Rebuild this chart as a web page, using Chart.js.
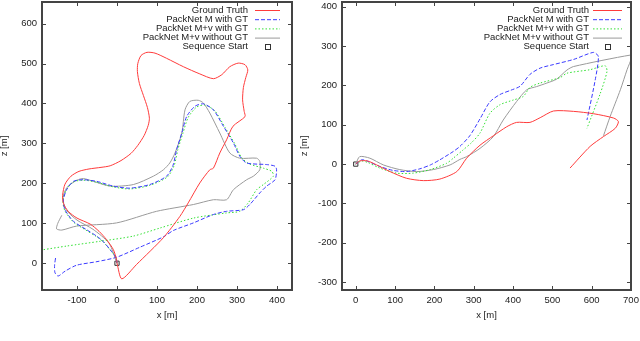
<!DOCTYPE html>
<html>
<head>
<meta charset="utf-8">
<script src="https://cdn.jsdelivr.net/npm/chart.js@4.4.0/dist/chart.umd.min.js"></script>
<style>
body { margin: 0; background: #fff; width: 640px; height: 341px; overflow: hidden; position: relative; }
#left { position: absolute; left: 0; top: 0; }
#right { position: absolute; left: 298px; top: 0; }
</style>
</head>
<body>
<canvas id="left" width="300" height="341"></canvas>
<canvas id="right" width="342" height="341"></canvas>
<script>
// series labels
var seriesNames = ['Ground Truth', 'PackNet M with GT', 'PackNet M+v with GT', 'PackNet M+v without GT', 'Sequence Start'];

// tick labels
var leftXTicks = [-100, 0, 100, 200, 300, 400];
var leftYTicks = [0, 100, 200, 300, 400, 500, 600];
var rightXTicks = [0, 100, 200, 300, 400, 500, 600, 700];
var rightYTicks = [-300, -200, -100, 0, 100, 200, 300, 400];

// ---- left plot (x / z in metres) ----
var gtLX = [0, -1, -9, -26, -45, -67, -100, -122, -134, -136, -130, -115, -95, -70, -40, -17, 10, 35, 52, 68, 78, 81, 76, 66, 56, 51, 52, 60, 75, 95, 124, 166, 207, 241, 262, 282, 303, 320, 327, 322, 316, 314, 318, 320, 290, 274, 257, 241, 232, 207, 178, 157, 116, 49, 12, 0];
var gtLY = [0, 9, 34, 59, 80, 98, 113, 130, 150, 170, 198, 218, 230, 236, 240, 244, 257, 275, 295, 320, 345, 363, 390, 420, 450, 480, 500, 520, 528, 526, 513, 492, 474, 462, 472, 492, 501, 497, 484, 465, 440, 409, 380, 367, 343, 309, 276, 238, 234, 201, 151, 117, 64, -3, -39, 0];

var mLX = [0, -3, -17, -35, -51, -76, -109, -130, -134, -126, -109, -84, -51, -9, 32, 82, 124, 140, 149, 162, 174, 195, 216, 241, 266, 291, 307, 324, 374, 395, 399, 395, 374, 357, 332, 316, 274, 241, 191, 141, 116, 57, -1, -50, -101, -130, -147, -155, -156, -153];
var mLY = [0, 15, 34, 55, 68, 84, 105, 134, 159, 184, 205, 209, 205, 193, 188, 197, 218, 245, 284, 326, 367, 393, 399, 384, 343, 301, 268, 251, 247, 243, 234, 209, 193, 176, 147, 134, 130, 122, 101, 82, 66, 40, 15, 4, -5, -20, -32, -24, -5, 17];

var mvLX = [0, -3, -17, -35, -52, -78, -110, -131, -135, -127, -110, -85, -52, -9, 32, 82, 126, 143, 152, 165, 178, 199, 220, 245, 270, 295, 311, 330, 366, 387, 391, 366, 349, 328, 307, 274, 191, 107, 41, -42, -126, -184, -205];
var mvLY = [0, 15, 33, 54, 67, 83, 104, 133, 158, 183, 203, 208, 203, 191, 186, 195, 216, 245, 284, 326, 365, 391, 396, 381, 340, 298, 265, 249, 238, 230, 218, 197, 184, 151, 130, 126, 113, 88, 68, 55, 43, 34, 31];

var noGtLX = [0, -20, -60, -100, -128, -135, -125, -100, -84, -59, -17, 41, 91, 116, 132, 145, 162, 170, 182, 203, 216, 232, 257, 282, 307, 349, 357, 357, 341, 324, 291, 274, 241, 191, 99, -1, -101, -138, -151, -148, -138];
var noGtLY = [0, 50, 85, 108, 135, 165, 190, 208, 212, 205, 193, 197, 218, 234, 251, 276, 326, 384, 405, 408, 401, 376, 326, 276, 263, 263, 255, 234, 218, 209, 184, 159, 159, 147, 130, 101, 93, 83, 86, 100, 120];

// ---- right plot ----
var gtRX = [0, 10, 30, 53, 87, 129, 172, 214, 257, 282, 316, 350, 384, 409, 443, 469, 503, 554, 605, 656, 668, 660, 630, 596, 545];
var gtRY = [0, 8, 8, -2, -19, -36, -42, -38, -19, 15, 48, 72, 95, 106, 106, 118, 135, 134, 128, 117, 108, 91, 70, 45, -10];

var mRX = [0, 15, 31, 61, 95, 129, 163, 190, 214, 248, 265, 290, 316, 341, 367, 395, 418, 443, 469, 503, 554, 605, 617, 609, 588];
var mRY = [0, 11, 7, -6, -16, -19, -12, -2, 11, 32, 45, 72, 115, 158, 177, 188, 198, 228, 244, 253, 266, 284, 273, 214, 112];

var mvRX = [0, 15, 31, 61, 104, 146, 189, 231, 248, 273, 295, 316, 341, 367, 401, 426, 443, 469, 520, 537, 596, 634, 639, 622, 588];
var mvRY = [0, 8, 4, -10, -23, -23, -14, 2, 15, 36, 55, 79, 129, 151, 163, 172, 195, 206, 220, 231, 240, 250, 236, 180, 91];

var noGtRX = [0, 10, 36, 70, 112, 155, 197, 240, 265, 282, 316, 350, 375, 409, 435, 460, 486, 511, 537, 554, 698, 702, 690, 673, 647, 630];
var noGtRY = [0, 19, 15, -2, -14, -19, -14, -2, 12, 19, 40, 70, 112, 159, 189, 197, 206, 216, 239, 248, 277, 272, 240, 189, 121, 72];

var startX = [0];
var startY = [0];

var font = { family: "'Liberation Sans', Arial, sans-serif", size: 9.5 };
var textColor = '#222';

function pts(xs, ys) {
    return xs.map((x, i) => ({ x: x, y: ys[i] }));
}

function makeDatasets(gx, gy, mx, my, vx, vy, nx, ny) {
    return [
        { label: seriesNames[0], data: pts(gx, gy), borderColor: '#ff3b3b', borderWidth: 1, showLine: true, pointRadius: 0, tension: 0.25 },
        { label: seriesNames[1], data: pts(mx, my), borderColor: '#3a3aff', borderWidth: 1, borderDash: [4, 2], showLine: true, pointRadius: 0, tension: 0.25 },
        { label: seriesNames[2], data: pts(vx, vy), borderColor: '#33e033', borderWidth: 1, borderDash: [1.5, 2], showLine: true, pointRadius: 0, tension: 0.25 },
        { label: seriesNames[3], data: pts(nx, ny), borderColor: '#9a9a9a', borderWidth: 1, showLine: true, pointRadius: 0, tension: 0.25 },
        { label: seriesNames[4], data: pts(startX, startY), pointStyle: 'rect', pointRadius: 3, borderColor: '#333', borderWidth: 1, backgroundColor: 'rgba(0,0,0,0)', showLine: false }
    ];
}

// box round the plot with inward ticks on all four sides
const framePlugin = {
    id: 'frame',
    afterDatasetsDraw(chart) {
        const { ctx, chartArea: a, scales: { x, y } } = chart;
        ctx.save();
        ctx.strokeStyle = '#444';
        ctx.lineWidth = 1;
        ctx.beginPath();
        x.ticks.forEach(t => {
            const px = Math.round(x.getPixelForValue(t.value)) + 0.5;
            ctx.moveTo(px, a.bottom); ctx.lineTo(px, a.bottom - 4);
            ctx.moveTo(px, a.top); ctx.lineTo(px, a.top + 4);
        });
        y.ticks.forEach(t => {
            const py = Math.round(y.getPixelForValue(t.value)) + 0.5;
            ctx.moveTo(a.left, py); ctx.lineTo(a.left + 4, py);
            ctx.moveTo(a.right, py); ctx.lineTo(a.right - 4, py);
        });
        ctx.stroke();
        ctx.lineWidth = 2;
        ctx.strokeRect(a.left, a.top, a.right - a.left, a.bottom - a.top);
        ctx.restore();
    }
};

// gnuplot style key: text right aligned, sample to its right
const keyPlugin = {
    id: 'key',
    afterDraw(chart, args, opts) {
        const ctx = chart.ctx;
        ctx.save();
        ctx.font = font.size + 'px ' + font.family;
        ctx.fillStyle = textColor;
        ctx.textAlign = 'right';
        ctx.textBaseline = 'middle';
        chart.data.datasets.forEach((ds, i) => {
            const yy = opts.y0 + i * opts.dy;
            ctx.fillText(ds.label, opts.textRight, yy);
            if (ds.showLine) {
                ctx.strokeStyle = ds.borderColor;
                ctx.lineWidth = 1;
                ctx.setLineDash(ds.borderDash || []);
                ctx.beginPath();
                ctx.moveTo(opts.x1, yy + 0.5);
                ctx.lineTo(opts.x2, yy + 0.5);
                ctx.stroke();
                ctx.setLineDash([]);
            } else {
                const cx = (opts.x1 + opts.x2) / 2;
                ctx.strokeStyle = '#333';
                ctx.lineWidth = 1;
                ctx.strokeRect(Math.round(cx) - 2.5, Math.round(yy) - 2.5, 5, 5);
            }
        });
        ctx.restore();
    }
};

// stop chart.js from reserving room for half tick labels
function noPad(s) {
    s.paddingTop = 0; s.paddingBottom = 0; s.paddingLeft = 0; s.paddingRight = 0;
}

function makeChart(id, datasets, cfg) {
    return new Chart(document.getElementById(id), {
        type: 'scatter',
        data: { datasets: datasets },
        options: {
            responsive: false,
            animation: false,
            layout: { autoPadding: false, padding: { top: cfg.padTop, right: cfg.padRight, left: 0, bottom: 0 } },
            plugins: {
                legend: { display: false },
                tooltip: { enabled: false },
                key: cfg.key
            },
            scales: {
                x: {
                    type: 'linear',
                    min: cfg.xMin, max: cfg.xMax,
                    grid: { display: false, drawTicks: false },
                    border: { display: false },
                    ticks: { font: font, color: textColor, padding: 5, autoSkip: false, maxRotation: 0 },
                    afterBuildTicks: s => { s.ticks = cfg.xTicks.map(v => ({ value: v })); },
                    afterFit: s => { s.height = 51; noPad(s); },
                    title: { display: true, text: 'x [m]', font: font, color: textColor, padding: { top: 0, bottom: 20 } }
                },
                y: {
                    type: 'linear',
                    min: cfg.yMin, max: cfg.yMax,
                    grid: { display: false, drawTicks: false },
                    border: { display: false },
                    ticks: { font: font, color: textColor, padding: 5, autoSkip: false },
                    afterBuildTicks: s => { s.ticks = cfg.yTicks.map(v => ({ value: v })); },
                    afterFit: s => { s.width = cfg.yWidth; noPad(s); },
                    title: { display: true, text: 'z [m]', font: { family: font.family, size: font.size, lineHeight: 1 }, color: textColor, padding: { top: cfg.titlePad, bottom: 0 } }
                }
            }
        },
        plugins: [framePlugin, keyPlugin]
    });
}

makeChart('left', makeDatasets(gtLX, gtLY, mLX, mLY, mvLX, mvLY, noGtLX, noGtLY), {
    xMin: -187.5, xMax: 437.5, yMin: -67, yMax: 654,
    xTicks: leftXTicks, yTicks: leftYTicks,
    padTop: 2, padRight: 8, yWidth: 42, titlePad: 0,
    key: { textRight: 248, x1: 255, x2: 280, y0: 10, dy: 9.2 }
});

makeChart('right', makeDatasets(gtRX, gtRY, mRX, mRY, mvRX, mvRY, noGtRX, noGtRY), {
    xMin: -35, xMax: 700, yMin: -320, yMax: 412,
    xTicks: rightXTicks, yTicks: rightYTicks,
    padTop: 2, padRight: 9, yWidth: 44, titlePad: 2,
    key: { textRight: 291, x1: 295, x2: 324, y0: 10, dy: 9.2 }
});
</script>
</body>
</html>
